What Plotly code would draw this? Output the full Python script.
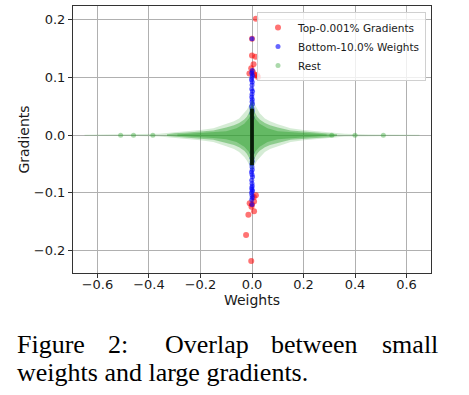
import plotly.graph_objects as go

# ---------------- data ----------------
# Top-0.001% gradients (red)
red_w = [0.015, 0.000, 0.000, 0.014, 0.006, -0.003, -0.010, 0.003, 0.010, 0.020, 0.023,
         0.015, 0.007, 0.008, -0.009, 0.000, -0.002, 0.008, -0.014, -0.023, -0.003]
red_g = [0.202, 0.167, 0.138, 0.136, 0.123, 0.116, 0.107, 0.110, 0.105, 0.104, 0.101,
         -0.104, -0.107, -0.115, -0.118, -0.120, -0.124, -0.132, -0.138, -0.173, -0.218]

# Bottom-10.0% weights (blue)
blue_w = [0.000, 0.001, -0.001, 0.002, 0.000, -0.002, 0.001, 0.000, -0.001, 0.002, 0.000,
          -0.001, 0.001, 0.000, 0.002, -0.002, 0.000, 0.001, -0.001, 0.000, 0.001, -0.001,
          0.000, 0.001, -0.002, 0.000, 0.002, -0.001, 0.000, 0.001, -0.001, 0.000, 0.002,
          -0.002, 0.000, 0.001, -0.001, 0.000, 0.001, 0.000]
blue_g = [0.167, 0.112, 0.108, 0.104, 0.100, 0.096, 0.092, 0.087, 0.080, 0.076, 0.071,
          0.066, 0.062, 0.058, 0.054, 0.050, 0.046, 0.042, 0.038, -0.040, -0.045, -0.050,
          -0.055, -0.060, -0.064, -0.068, -0.072, -0.078, -0.084, -0.088, -0.091, -0.094,
          -0.097, -0.100, -0.104, -0.108, -0.112, -0.120, 0.030, -0.030]

# Rest (green): isolated clumps far out on the weight axis
rest_w = [-0.51, -0.46, -0.385, 0.31, 0.40, 0.51]
rest_g = [0.000, 0.000, 0.000, 0.000, 0.000, 0.000]

# Rest (green): envelope of the dense cloud, |weight| vs. half-spread of gradients
halo_w = [0.0, 0.005, 0.01, 0.02, 0.03, 0.05, 0.07, 0.10, 0.15, 0.20, 0.25, 0.30, 0.36,
          0.45, 0.55, 0.65]
halo_h = [0.062, 0.058, 0.052, 0.044, 0.038, 0.029, 0.024, 0.019, 0.012, 0.0088, 0.0068,
          0.005, 0.0025, 0.0013, 0.001, 0.0008]
body_w = [0.0, 0.005, 0.01, 0.02, 0.03, 0.05, 0.07, 0.10, 0.15, 0.20, 0.25, 0.30, 0.33]
body_h = [0.054, 0.047, 0.040, 0.032, 0.027, 0.021, 0.017, 0.0135, 0.008, 0.0062, 0.0048,
          0.0035, 0.0015]
dense_w = [0.0, 0.01, 0.03, 0.06, 0.10, 0.15, 0.20, 0.25, 0.29]
dense_h = [0.045, 0.030, 0.020, 0.012, 0.007, 0.005, 0.0038, 0.0025, 0.001]

# dense overlap core around zero weight (appears black)
core_w = [0.0, 0.0]
core_g = [0.046, -0.052]

x_ticks = [-0.6, -0.4, -0.2, 0.0, 0.2, 0.4, 0.6]
y_ticks = [-0.2, -0.1, 0.0, 0.1, 0.2]


def outline(ws, hs):
    """closed polygon from a symmetric envelope"""
    xs = ws + ws[::-1] + [-w for w in ws] + [-w for w in ws[::-1]]
    ys = hs + [-h for h in hs[::-1]] + [-h for h in hs] + hs[::-1]
    return xs, ys


# ---------------- figure ----------------
W, H = 469, 395
L, R, T, B = 73, 38, 6, 122
pw, ph = W - L - R, H - T - B

fig = go.Figure()
fig.add_trace(go.Scatter(x=red_w, y=red_g, mode="markers", name="Top-0.001% Gradients",
                         marker=dict(color="rgb(255,0,0)", size=6, opacity=0.55)))
fig.add_trace(go.Scatter(x=blue_w, y=blue_g, mode="markers", name="Bottom-10.0% Weights",
                         marker=dict(color="rgb(0,0,255)", size=5, opacity=0.6)))
for ws, hs, a in [(halo_w, halo_h, 0.2), (body_w, body_h, 0.42), (dense_w, dense_h, 0.42)]:
    ex, ey = outline(ws, hs)
    fig.add_trace(go.Scatter(x=ex, y=ey, mode="lines", fill="toself", showlegend=False,
                             hoverinfo="skip", line=dict(width=0),
                             fillcolor=f"rgba(44,160,44,{a})", legendgroup="rest"))
fig.add_trace(go.Scatter(x=rest_w, y=rest_g, mode="markers", name="Rest",
                         legendgroup="rest",
                         marker=dict(color="rgb(44,160,44)", size=5, opacity=0.4)))
fig.add_trace(go.Scatter(x=core_w, y=core_g, mode="lines", showlegend=False,
                         hoverinfo="skip", line=dict(color="rgb(8,28,8)", width=3.8)))

axis_common = dict(showgrid=True, gridcolor="#b0b0b0", gridwidth=0.8, zeroline=False,
                   showline=True, linecolor="#333333", linewidth=1, mirror=True,
                   ticks="outside", ticklen=4, tickcolor="#333333",
                   tickfont=dict(family="DejaVu Sans", size=13, color="#1a1a1a"),
                   automargin=False)

fig.update_layout(
    width=W, height=H,
    margin=dict(l=L, r=R, t=T, b=B),
    paper_bgcolor="white", plot_bgcolor="white",
    xaxis=dict(range=[-0.695, 0.695], tickvals=x_ticks, tickformat=".1f",
               ticklabelstandoff=-5,
               title=dict(text="Weights", standoff=0,
                          font=dict(family="DejaVu Sans", size=14, color="#1a1a1a")),
               **axis_common),
    yaxis=dict(range=[-0.239, 0.224], tickvals=y_ticks, tickformat=".1f",
               title=dict(text="Gradients", standoff=0,
                          font=dict(family="DejaVu Sans", size=14, color="#1a1a1a")),
               **axis_common),
    legend=dict(x=(426 - L) / pw, y=(H - B - 12) / ph, xanchor="right", yanchor="top",
                bgcolor="rgba(255,255,255,0.8)", bordercolor="#d0d0d0", borderwidth=1,
                font=dict(family="DejaVu Sans", size=10.5, color="#1a1a1a"),
                tracegroupgap=0, traceorder="normal"),
    showlegend=True,
)

cap_font = dict(family="Liberation Serif", size=26, color="black")
line1 = [("Figure", 15), ("2:", 106), ("Overlap", 163), ("between", 269), ("small", 380)]
for word, px in line1:
    fig.add_annotation(text=word, xref="paper", yref="paper",
                       x=(px - L) / pw, y=(H - B - 344) / ph,
                       xanchor="left", yanchor="middle", showarrow=False, font=cap_font)
fig.add_annotation(text="weights and large gradients.", xref="paper", yref="paper",
                   x=(15 - L) / pw, y=(H - B - 372) / ph,
                   xanchor="left", yanchor="middle", showarrow=False, font=cap_font)

fig.write_html("out.html", config={"displayModeBar": False},
               post_script="document.body.style.margin='0px';")
